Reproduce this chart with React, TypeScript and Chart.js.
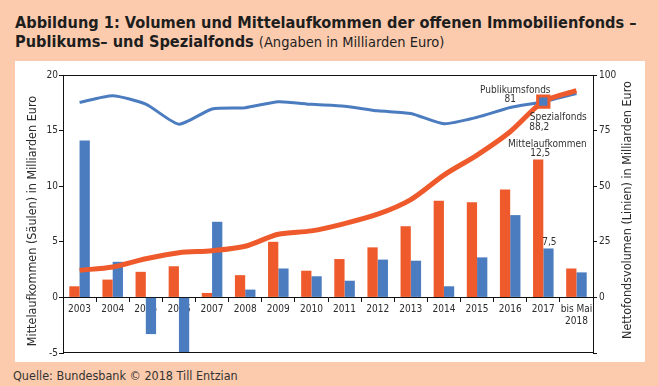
import React, { useEffect, useRef } from "react";
import { Chart, registerables } from "chart.js";

Chart.register(...registerables);

const categories: (string | string[])[] = [
  "2003", "2004", "2005", "2006", "2007", "2008", "2009", "2010",
  "2011", "2012", "2013", "2014", "2015", "2016", "2017", ["bis Mai", "2018"],
];

// Mittelaufkommen (bars, left axis, Mrd. Euro)
const spezialInflow = [1.0, 1.6, 2.3, 2.8, 0.4, 2.0, 5.0, 2.4, 3.45, 4.5, 6.4, 8.7, 8.55, 9.7, 12.4, 2.6];
const publikumsInflow = [14.1, 3.2, -3.3, -5.0, 6.8, 0.7, 2.6, 1.9, 1.5, 3.4, 3.3, 1.0, 3.6, 7.4, 4.4, 2.25];

// Nettofondsvolumen (lines, right axis, Mrd. Euro)
const spezialVolume = [12.2, 13.7, 17.4, 20.1, 21.0, 23.0, 28.4, 29.9, 33.2, 37.4, 44.0, 55.0, 64.0, 74.5, 88.0, 93.0];
const publikumsVolume = [87.7, 90.7, 86.9, 77.9, 84.7, 85.3, 88.0, 86.8, 86.0, 83.9, 82.7, 78.1, 81.0, 85.4, 88.0, 91.7];

const leftTicks = [-5, 0, 5, 10, 15, 20];
const rightTicks = [0, 25, 50, 75, 100];

const leftTitle = "Mittelaufkommen (Säulen) in Milliarden Euro";
const rightTitle = "Nettofondsvolumen (Linien) in Milliarden Euro";

const ORANGE = "#ee5a2b";
const BLUE = "#4b7cbf";
const TEXT = "#2b2b2b";
const PEACH = "#fccbad";
const FONT = "'DejaVu Sans Condensed', 'Liberation Sans', sans-serif";

const markerIndex = 14;

const overlayPlugin = {
  id: "overlay",
  afterDraw(chart: any) {
    const { ctx, chartArea, scales } = chart;
    ctx.save();
    ctx.strokeStyle = "#111";
    ctx.lineWidth = 1;
    ctx.beginPath();
    ctx.moveTo(chartArea.left, Math.round(chartArea.top) + 0.5);
    ctx.lineTo(chartArea.right, Math.round(chartArea.top) + 0.5);
    ctx.moveTo(chartArea.left, Math.round(chartArea.bottom) - 0.5);
    ctx.lineTo(chartArea.right, Math.round(chartArea.bottom) - 0.5);
    ctx.stroke();

    // axis titles (both read bottom-to-top)
    ctx.fillStyle = TEXT;
    ctx.font = "12.5px " + FONT;
    ctx.textAlign = "center";
    ctx.textBaseline = "middle";
    const midY = (chartArea.top + chartArea.bottom) / 2;
    const vtext = (t: string, cx: number, cy: number) => {
      ctx.save();
      ctx.translate(cx, cy);
      ctx.rotate(-Math.PI / 2);
      ctx.fillText(t, 0, 0);
      ctx.restore();
    };
    vtext(leftTitle, chartArea.left - 30, midY + 7);
    vtext(rightTitle, chartArea.right + 35, midY - 4);

    const x = scales.x.getPixelForValue(markerIndex);
    const yPub = scales.y1.getPixelForValue(publikumsVolume[markerIndex]);
    const ySpBar = scales.y.getPixelForValue(spezialInflow[markerIndex]);
    const yPubBar = scales.y.getPixelForValue(publikumsInflow[markerIndex]);
    ctx.fillStyle = "#333";
    ctx.font = "10px " + FONT;
    const put = (t: string, dx: number, yy: number) => ctx.fillText(t, x + dx, yy);
    put("Publikumsfonds", -28, yPub - 11);
    put("81", -33, yPub - 2);
    put("Spezialfonds", 15, yPub + 16);
    put("88,2", -4, yPub + 25.5);
    put("Mittelaufkommen", 4, ySpBar - 15);
    put("12,5", -3, ySpBar - 6);
    put("7,5", 6, yPubBar - 6);
    ctx.restore();
  },
};

export default function App() {
  const ref = useRef<HTMLCanvasElement | null>(null);
  useEffect(() => {
    if (!ref.current) return;
    const tickFont = { family: FONT, size: 10 };
    const chart = new Chart(ref.current, {
      type: "bar",
      data: {
        labels: categories as any,
        datasets: [
          {
            type: "line",
            label: "Spezialfonds Volumen",
            data: spezialVolume,
            yAxisID: "y1",
            borderColor: ORANGE,
            borderWidth: 5,
            tension: 0.3,
            pointRadius: spezialVolume.map((_, i) => (i === markerIndex ? 8 : 0)),
            pointStyle: "rect",
            pointBackgroundColor: BLUE,
            pointBorderColor: ORANGE,
            pointBorderWidth: 3,
            fill: false,
          } as any,
          {
            type: "line",
            label: "Publikumsfonds Volumen",
            data: publikumsVolume,
            yAxisID: "y1",
            borderColor: BLUE,
            borderWidth: 3,
            tension: 0.2,
            pointRadius: 0,
            fill: false,
          } as any,
          {
            label: "Spezialfonds Mittelaufkommen",
            data: spezialInflow,
            yAxisID: "y",
            backgroundColor: ORANGE,
            categoryPercentage: 0.62,
            barPercentage: 1,
          },
          {
            label: "Publikumsfonds Mittelaufkommen",
            data: publikumsInflow,
            yAxisID: "y",
            backgroundColor: BLUE,
            categoryPercentage: 0.62,
            barPercentage: 1,
          },
        ],
      },
      options: {
        responsive: false,
        animation: false,
        devicePixelRatio: 1,
        layout: { padding: { top: 14, bottom: 9, left: 0, right: 0 } },
        plugins: { legend: { display: false }, tooltip: { enabled: false } },
        scales: {
          x: {
            position: { y: 0 } as any,
            grid: { offset: true, drawOnChartArea: false, tickLength: 4, color: "#111" },
            border: { display: true, color: "#111" },
            ticks: { font: tickFont, color: TEXT, padding: 2, maxRotation: 0, autoSkip: false },
            afterFit: (s: any) => { s.height = 0; },
          },
          y: {
            position: "left",
            min: -5,
            max: 20,
            afterBuildTicks: (s: any) => { s.ticks = leftTicks.map((v) => ({ value: v })); },
            ticks: { font: tickFont, color: TEXT, padding: 1 },
            grid: { drawOnChartArea: false, tickLength: 4, color: "#111" },
            border: { display: true, color: "#111" },
            afterFit: (s: any) => { s.width = 48; },
          },
          y1: {
            position: "right",
            min: -25,
            max: 100,
            afterBuildTicks: (s: any) => { s.ticks = [-25, ...rightTicks].map((v) => ({ value: v })); },
            ticks: {
              font: tickFont,
              color: TEXT,
              padding: 2,
              callback: (v: any) => (rightTicks.includes(Number(v)) ? String(v) : ""),
            },
            grid: { drawOnChartArea: false, tickLength: 4, color: "#111" },
            border: { display: true, color: "#111" },
            afterFit: (s: any) => { s.width = 52; },
          },
        },
      },
      plugins: [overlayPlugin],
    });
    return () => chart.destroy();
  }, []);

  return (
    <div style={{ position: "absolute", left: 0, top: 0, width: 658, height: 386, background: PEACH, fontFamily: FONT, color: "#1e1e1e", overflow: "hidden" }}>
      <div style={{ position: "absolute", left: 15, top: 12.5, fontSize: 16.2, fontWeight: "bold", lineHeight: "20px", whiteSpace: "nowrap" }}>
        Abbildung 1: Volumen und Mittelaufkommen der offenen Immobilienfonds –
      </div>
      <div style={{ position: "absolute", left: 15, top: 32, fontSize: 16.2, fontWeight: "bold", lineHeight: "20px", whiteSpace: "nowrap" }}>
        Publikums– und Spezialfonds <span style={{ fontWeight: "normal", fontSize: 14.5 }}>(Angaben in Milliarden Euro)</span>
      </div>
      <div style={{ position: "absolute", left: 15, top: 61, width: 630, height: 301, background: "#fff" }}>
        <canvas ref={ref} width={630} height={301} style={{ display: "block" }} />
      </div>
      <div style={{ position: "absolute", left: 13, top: 369, fontSize: 12.5, lineHeight: "14px", color: "#333", whiteSpace: "nowrap" }}>
        Quelle: Bundesbank © 2018 Till Entzian
      </div>
    </div>
  );
}
